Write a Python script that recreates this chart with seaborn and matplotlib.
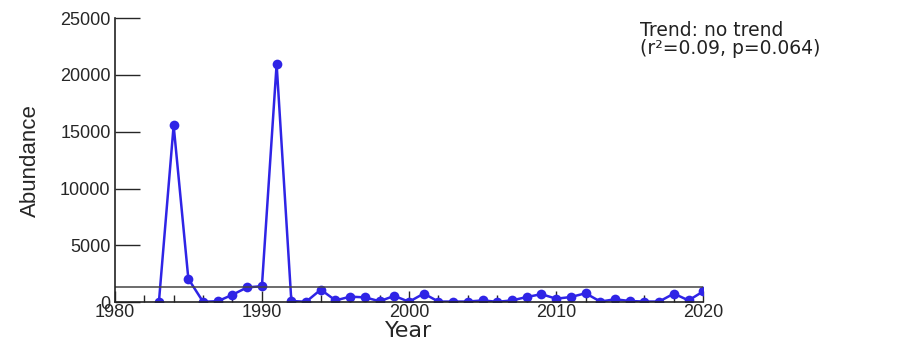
import numpy as np
import pandas as pd
import matplotlib
matplotlib.use('Agg')
import matplotlib.pyplot as plt
from matplotlib.ticker import MultipleLocator
import seaborn as sns

# Données
years = list(range(1983, 2021))
abundance = [30, 15550, 2050, 30, 80, 650, 1300, 1400, 20950, 100,
             30, 1100, 150, 480, 420, 80, 550, 30, 750, 50,
             50, 50, 150, 30, 150, 450, 700, 300, 450, 780,
             50, 250, 100, 50, 50, 750, 150, 950]
trend_line1 = "Trend: no trend"
trend_line2 = "(r\u00b2=0.09, p=0.064)"

df = pd.DataFrame({'Year': years, 'Abundance': abundance})

sns.set_style('white')
plt.rcParams['font.family'] = ['Liberation Sans', 'DejaVu Sans']

fig = plt.figure(figsize=(9.11, 3.41), dpi=100)
ax = fig.add_axes([0.126, 0.114, 0.646, 0.833])

sns.lineplot(data=df, x='Year', y='Abundance', ax=ax, color='#2f24e6',
             marker='o', markersize=7, markeredgewidth=0, linewidth=1.8)

# Ligne de moyenne
ax.axhline(np.mean(abundance), color='#444444', linewidth=1.1)

ax.set_xlim(1980, 2020)
ax.set_ylim(0, 25000)
ax.xaxis.set_major_locator(MultipleLocator(10))
ax.xaxis.set_minor_locator(MultipleLocator(2))
ax.yaxis.set_major_locator(MultipleLocator(5000))

for s in ['top', 'right']:
    ax.spines[s].set_visible(False)
for s in ['left', 'bottom']:
    ax.spines[s].set_color('#222222')
    ax.spines[s].set_linewidth(1.2)

ax.tick_params(axis='x', which='major', direction='in', length=8, width=1, labelsize=13, pad=1.5)
ax.tick_params(axis='x', which='minor', direction='in', length=5, width=1)
ax.tick_params(axis='y', which='major', direction='in', length=18, width=1, labelsize=13, pad=3)
ax.tick_params(axis='x', which='both', bottom=True)
ax.tick_params(axis='y', which='both', left=True)

ax.set_xlabel('Year', fontsize=16, family=['DejaVu Sans'], va='bottom')
ax.xaxis.set_label_coords(0.5, -38.5 / 284)
ax.set_ylabel('Abundance', fontsize=16, labelpad=14)

fig.text(0.703, 1 - 31 / 341, trend_line1, fontsize=13.5, family=['DejaVu Sans'],
         color='#222222', va='center')
fig.text(0.703, 1 - 49 / 341, trend_line2, fontsize=13.5, family=['DejaVu Sans'],
         color='#222222', va='center')

plt.savefig('out.png', dpi=100)
